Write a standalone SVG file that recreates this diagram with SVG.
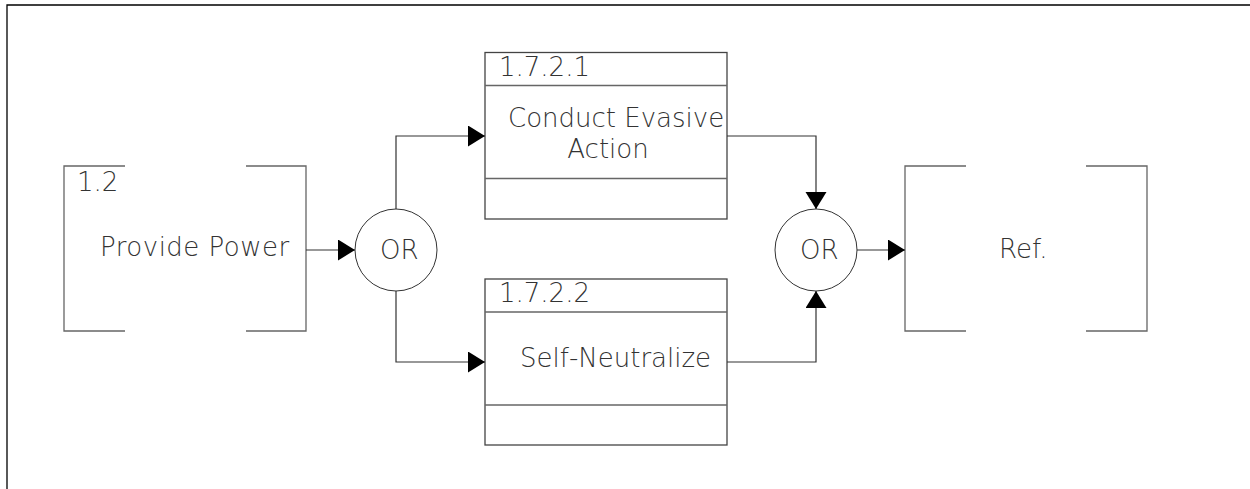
<svg xmlns="http://www.w3.org/2000/svg" width="1250" height="489" viewBox="0 0 1250 489">
<defs>
<style>
.t{font-family:"DejaVu Sans","Liberation Sans",sans-serif;font-size:26px;font-weight:200;fill:#333}
.br{fill:none;stroke:#666;stroke-width:1.3}
.bx{fill:#fff;stroke:#444;stroke-width:1.3}
.dv{stroke:#666;stroke-width:1.3}
.ci{fill:#fff;stroke:#333;stroke-width:1}
.cn{fill:none;stroke:#333;stroke-width:1.2}
</style>
<marker id="ah" markerUnits="userSpaceOnUse" markerWidth="18" markerHeight="22" refX="17" refY="10.5" orient="auto">
<path d="M0,0 L17,10.5 L0,21 Z" fill="#000"/>
</marker>
</defs>
<rect width="1250" height="489" fill="#fff"/>
<path d="M7,489 V5 H1250" fill="none" stroke="#000" stroke-width="1.3"/>
<g id="n_provide_power">
<path class="br" d="M125,166 H64 V331 H125 M246,166 H306 V331 H246"/>
<text class="t" x="77" y="191">1.2</text>
<text class="t" x="100" y="256" letter-spacing="0.5">Provide Power</text>
</g>
<g id="n_or1">
<circle class="ci" cx="396" cy="250" r="41"/>
<text class="t" x="380" y="259">OR</text>
</g>
<g id="n_1721">
<rect class="bx" x="485" y="52.5" width="242" height="166.5"/>
<line class="dv" x1="485" y1="85.5" x2="727" y2="85.5"/>
<line class="dv" x1="485" y1="178.5" x2="727" y2="178.5"/>
<text class="t" x="499" y="76">1.7.2.1</text>
<text class="t" x="508" y="127">Conduct Evasive</text>
<text class="t" x="608" y="158" text-anchor="middle">Action</text>
</g>
<g id="n_1722">
<rect class="bx" x="485" y="279" width="242" height="166"/>
<line class="dv" x1="485" y1="312" x2="727" y2="312"/>
<line class="dv" x1="485" y1="405" x2="727" y2="405"/>
<text class="t" x="499" y="302">1.7.2.2</text>
<text class="t" x="520" y="367">Self-Neutralize</text>
</g>
<g id="n_or2">
<circle class="ci" cx="816" cy="250" r="41"/>
<text class="t" x="800" y="259">OR</text>
</g>
<g id="n_ref">
<path class="br" d="M966,166 H905 V331 H966 M1086,166 H1147 V331 H1086"/>
<text class="t" x="999" y="258">Ref.</text>
</g>
<g id="connectors">
<path class="cn" d="M306,250 H355" marker-end="url(#ah)"/>
<path class="cn" d="M396,209 V136 H485" marker-end="url(#ah)"/>
<path class="cn" d="M396,291 V362 H485" marker-end="url(#ah)"/>
<path class="cn" d="M727,136 H816 V209" marker-end="url(#ah)"/>
<path class="cn" d="M727,362 H816 V291" marker-end="url(#ah)"/>
<path class="cn" d="M857,250 H905" marker-end="url(#ah)"/>
</g>
</svg>
